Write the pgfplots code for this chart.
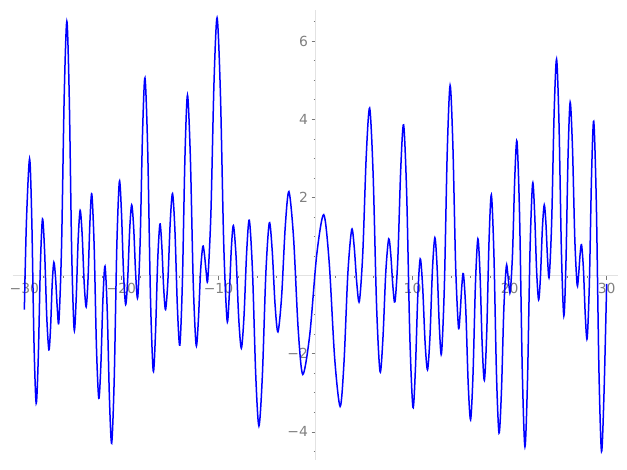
\documentclass[border=0pt]{standalone}
\usepackage{fontspec}
\setmainfont{DejaVu Sans}
\usepackage{pgfplots}
\pgfplotsset{compat=1.18}
\definecolor{axisgray}{RGB}{226,226,226}
\definecolor{tickgray}{RGB}{120,120,120}
\definecolor{labelgray}{RGB}{128,128,128}
\begin{document}
\begin{tikzpicture}
\useasboundingbox (-12.7pt,-10pt) rectangle (614.3pt,460pt);
\begin{axis}[
  at={(0,0)}, anchor=south west,
  scale only axis, width=605.6pt, height=450pt,
  xmin=-31.2, xmax=31.2, ymin=-4.72, ymax=6.80,
  axis lines=middle,
  axis line style={-, draw=axisgray, line width=1.6pt},
  tick align=outside,
  major tick length=4pt, minor tick length=2pt,
  every tick/.style={tickgray, line width=0.7pt},
  xtick={-30,-20,-10,10,20,30},
  xticklabels={−30,−20,−10,10,20,30},
  ytick={-4,-2,2,4,6},
  yticklabels={−4,−2,2,4,6},
  minor xtick={-30,-28,...,30},
  minor ytick={-4.5,-4,...,6.5},
  /pgf/number format/assume math mode=true,
  tick label style={font=\fontsize{13.9}{16}\selectfont, text=labelgray},
  clip=false,
]
\addplot[blue, line width=1.5pt, smooth, mark=none] coordinates {
(-30,-0.87) (-29.78,1.42) (-29.46,2.99) (-29.233,1.425) (-29.007,-1.705)
(-28.78,-3.27) (-28.563,-2.09) (-28.347,0.27) (-28.13,1.45) (-27.91,0.61)
(-27.69,-1.06) (-27.47,-1.90) (-27.30,-1.34) (-27.13,-0.22) (-26.96,0.34)
(-26.787,-0.04) (-26.613,-0.80) (-26.44,-1.18) (-26.167,0.74) (-25.893,4.59)
(-25.62,6.51) (-25.37,4.54) (-25.12,0.59) (-24.87,-1.38) (-24.663,-0.62)
(-24.457,0.91) (-24.25,1.67) (-24.043,1.05) (-23.837,-0.18) (-23.63,-0.80)
(-23.437,-0.08) (-23.243,1.37) (-23.05,2.09) (-22.81,0.78) (-22.57,-1.83)
(-22.33,-3.14) (-22.117,-2.30) (-21.903,-0.61) (-21.69,0.24) (-21.46,-0.89)
(-21.23,-3.16) (-21.00,-4.29) (-20.737,-2.62) (-20.473,0.74) (-20.21,2.41)
(-19.993,1.62) (-19.777,0.05) (-19.56,-0.74) (-19.353,-0.10) (-19.147,1.17)
(-18.94,1.81) (-18.733,1.22) (-18.527,0.03) (-18.32,-0.56) (-18.07,0.85)
(-17.82,3.66) (-17.57,5.06) (-17.287,3.19) (-17.003,-0.57) (-16.72,-2.44)
(-16.49,-1.50) (-16.26,0.38) (-16.03,1.32) (-15.837,0.77) (-15.643,-0.32)
(-15.45,-0.87) (-15.21,-0.13) (-14.97,1.36) (-14.73,2.10) (-14.48,1.13)
(-14.23,-0.81) (-13.98,-1.78) (-13.717,-0.18) (-13.453,3.02) (-13.19,4.62)
(-12.893,3.02) (-12.597,-0.18) (-12.30,-1.78) (-12.07,-1.15) (-11.84,0.12)
(-11.61,0.75) (-11.44,0.54) (-11.27,0.11) (-11.10,-0.10) (-10.78,1.58)
(-10.46,4.93) (-10.14,6.60) (-9.797,4.66) (-9.453,0.79) (-9.11,-1.15)
(-8.893,-0.54) (-8.677,0.67) (-8.46,1.28) (-8.187,0.50) (-7.913,-1.08)
(-7.64,-1.86) (-7.367,-1.04) (-7.093,0.60) (-6.82,1.42) (-6.49,0.10)
(-6.16,-2.53) (-5.83,-3.85) (-5.473,-2.55) (-5.117,0.05) (-4.76,1.35)
(-4.463,0.65) (-4.167,-0.74) (-3.87,-1.44) (-3.493,-0.54) (-3.117,1.25)
(-2.74,2.15) (-2.263,0.98) (-1.787,-1.36) (-1.31,-2.53) (-0.59,-1.51)
(0.13,0.54) (0.85,1.56) (1.413,0.33) (1.977,-2.12) (2.54,-3.35)
(2.937,-2.22) (3.333,0.05) (3.73,1.18) (3.993,0.72) (4.257,-0.20)
(4.52,-0.66) (4.873,0.58) (5.227,3.05) (5.58,4.29) (5.937,2.60)
(6.293,-0.77) (6.65,-2.46) (6.947,-1.61) (7.243,0.09) (7.54,0.94)
(7.757,0.54) (7.973,-0.27) (8.19,-0.67) (8.487,0.46) (8.783,2.73)
(9.08,3.86) (9.40,2.05) (9.72,-1.56) (10.04,-3.37) (10.29,-2.42)
(10.54,-0.52) (10.79,0.43) (11.04,-0.28) (11.29,-1.70) (11.54,-2.41)
(11.793,-1.57) (12.047,0.13) (12.30,0.97) (12.527,0.23) (12.753,-1.26)
(12.98,-2.00) (13.277,-0.28) (13.573,3.15) (13.87,4.87) (14.157,3.32)
(14.443,0.23) (14.73,-1.32) (14.90,-0.98) (15.07,-0.29) (15.24,0.05)
(15.487,-0.89) (15.733,-2.76) (15.98,-3.69) (16.23,-2.53) (16.48,-0.22)
(16.73,0.94) (16.953,0.04) (17.177,-1.78) (17.40,-2.68) (17.64,-1.49)
(17.88,0.88) (18.12,2.07) (18.383,0.55) (18.647,-2.51) (18.91,-4.03)
(19.16,-2.96) (19.41,-0.83) (19.66,0.24) (19.797,0.08) (19.933,-0.25)
(20.07,-0.41) (20.30,0.55) (20.53,2.48) (20.76,3.44) (21.033,1.49)
(21.307,-2.43) (21.58,-4.38) (21.843,-2.70) (22.107,0.68) (22.37,2.36)
(22.577,1.62) (22.783,0.13) (22.99,-0.62) (23.183,-0.01) (23.377,1.20)
(23.57,1.81) (23.74,1.35) (23.91,0.43) (24.08,-0.03) (24.333,1.36)
(24.587,4.15) (24.84,5.54) (25.09,3.90) (25.34,0.61) (25.59,-1.03)
(25.807,0.34) (26.023,3.07) (26.24,4.44) (26.48,3.27) (26.72,0.93)
(26.96,-0.24) (27.11,0.02) (27.26,0.53) (27.41,0.79) (27.603,0.19)
(27.797,-1.01) (27.99,-1.61) (28.217,-0.22) (28.443,2.56) (28.67,3.95)
(28.937,1.84) (29.203,-2.39) (29.47,-4.50) (29.73,-3.0) (30,-0.21)
};
\end{axis}
\end{tikzpicture}
\end{document}
